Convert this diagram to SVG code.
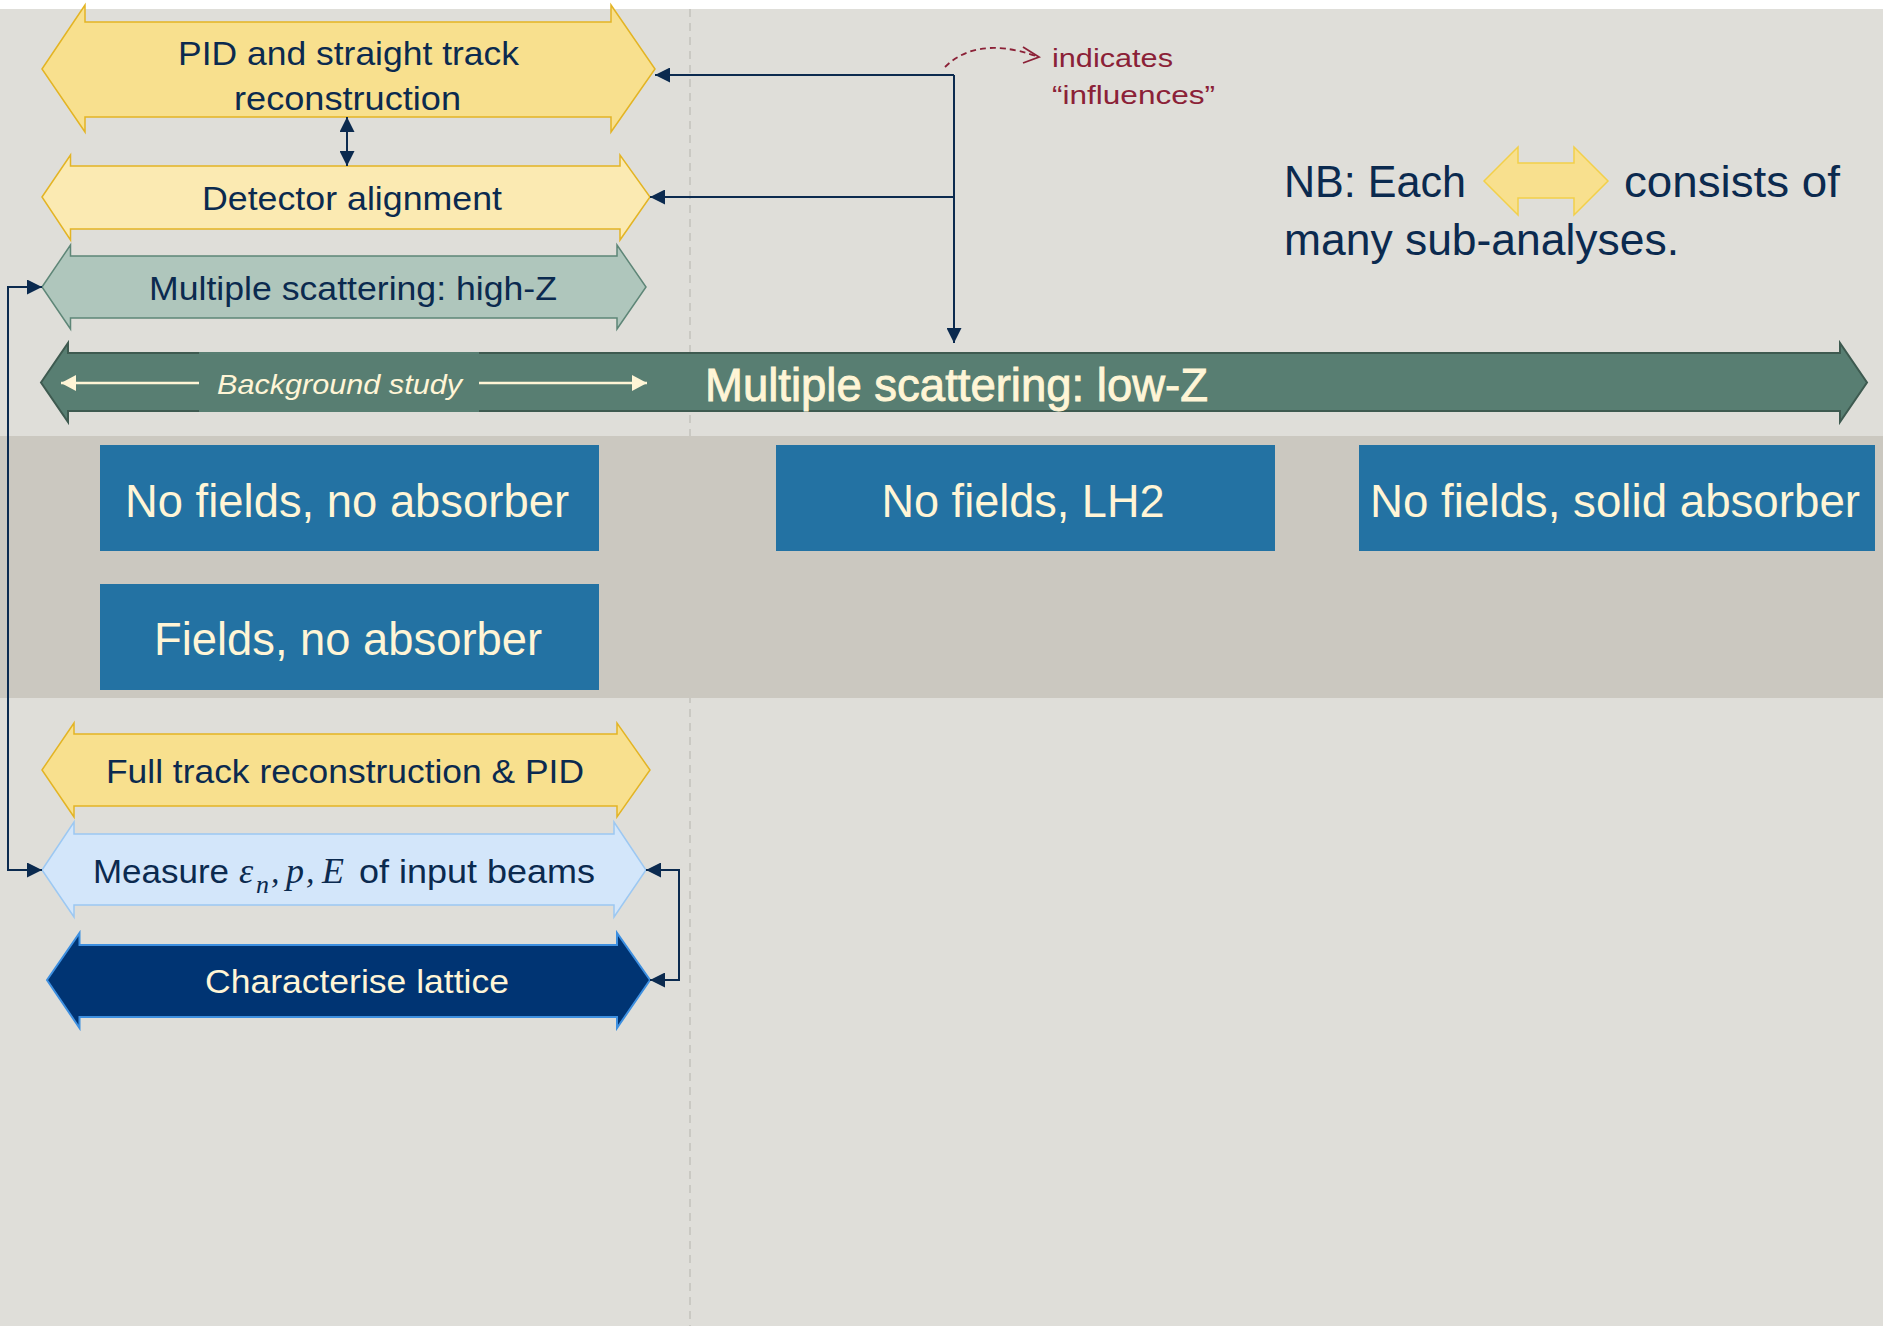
<svg xmlns="http://www.w3.org/2000/svg" width="1883" height="1326" viewBox="0 0 1883 1326">
<style>
.t{font-family:"Liberation Sans",Arial,sans-serif;fill:#0B2A4F}
.c{fill:#FFF5D6}
.m{font-family:"Liberation Serif","DejaVu Serif",serif;font-style:italic;fill:#0B2A4F}
.conn{fill:none;stroke:#0B2A4F;stroke-width:2}
.box{fill:#2372A3}
.yel{fill:#F8E08E;stroke:#E3B424;stroke-width:1.5}
</style>
<defs>
<marker id="ah" markerUnits="userSpaceOnUse" markerWidth="15" markerHeight="15" refX="15" refY="7.5" orient="auto-start-reverse" viewBox="0 0 15 15">
<path d="M0,0 L15,7.5 L0,15 z" fill="#0B2A4F"/>
</marker>
<marker id="ch" markerUnits="userSpaceOnUse" markerWidth="16" markerHeight="16" refX="15" refY="8" orient="auto" viewBox="0 0 16 16">
<path d="M0,0 L15,8 L0,16 z" fill="#FFF5D6"/>
</marker>
</defs>
<rect x="0" y="0" width="1883" height="1326" fill="#FFFFFF"/>
<rect x="0" y="9" width="1883" height="1317" fill="#DFDED9"/>
<line x1="690" y1="9" x2="690" y2="1326" stroke="#C4C2BC" stroke-width="1.5" stroke-dasharray="8 6"/>
<rect x="0" y="436" width="1883" height="262" fill="#CBC8C0"/>

<g id="pid-straight">
<path class="yel" d="M42,69 L85,5 L85,22 L611,22 L611,5 L655,69 L611,132 L611,117 L85,117 L85,132 Z"/>
<text class="t" x="178" y="65" font-size="32.5" textLength="341" lengthAdjust="spacingAndGlyphs">PID and straight track</text>
<text class="t" x="234" y="110" font-size="32.5" textLength="227" lengthAdjust="spacingAndGlyphs">reconstruction</text>
</g>

<g id="detector-alignment">
<path d="M42,197 L70.5,155 L70.5,166 L620,166 L620,155 L650,197 L620,240 L620,229 L70.5,229 L70.5,240 Z" fill="#FBEAB2" stroke="#E3B424" stroke-width="1.5"/>
<text class="t" x="202" y="210" font-size="33" textLength="300" lengthAdjust="spacingAndGlyphs">Detector alignment</text>
</g>

<g id="ms-highz">
<path d="M42,287 L70.5,245 L70.5,256 L617,256 L617,245 L646,287 L617,329 L617,318 L70.5,318 L70.5,329 Z" fill="#AFC6BC" stroke="#5E8677" stroke-width="1.5"/>
<text class="t" x="149" y="300" font-size="32.5" textLength="408" lengthAdjust="spacingAndGlyphs">Multiple scattering: high-Z</text>
</g>

<g id="ms-lowz">
<path d="M41,382.5 L68,343 L68,353 L1840,353 L1840,343 L1867,382.5 L1840,422 L1840,411 L68,411 L68,422 Z" fill="#587E72" stroke="#3E5A50" stroke-width="2"/>
<rect x="199" y="352" width="280" height="60" fill="#587E72"/>
<line x1="199" y1="383" x2="61" y2="383" stroke="#FFF5D6" stroke-width="2.5" marker-end="url(#ch)"/>
<line x1="479" y1="383" x2="647" y2="383" stroke="#FFF5D6" stroke-width="2.5" marker-end="url(#ch)"/>
<text class="t c" x="217" y="394" font-size="28" font-style="italic" textLength="245" lengthAdjust="spacingAndGlyphs">Background study</text>
<text class="t c" x="705" y="401" font-size="46" stroke="#FFF5D6" stroke-width="0.9" textLength="503" lengthAdjust="spacingAndGlyphs">Multiple scattering: low-Z</text>
</g>

<g id="box-nofields-noabs">
<rect class="box" x="100" y="445" width="499" height="106"/>
<text class="t c" x="125" y="517" font-size="46" textLength="444" lengthAdjust="spacingAndGlyphs">No fields, no absorber</text>
</g>
<g id="box-nofields-lh2">
<rect class="box" x="776" y="445" width="499" height="106"/>
<text class="t c" x="881.5" y="517" font-size="46" textLength="283" lengthAdjust="spacingAndGlyphs">No fields, LH2</text>
</g>
<g id="box-nofields-solid">
<rect class="box" x="1359" y="445" width="516" height="106"/>
<text class="t c" x="1370" y="517" font-size="46" textLength="490" lengthAdjust="spacingAndGlyphs">No fields, solid absorber</text>
</g>
<g id="box-fields-noabs">
<rect class="box" x="100" y="584" width="499" height="106"/>
<text class="t c" x="154" y="655" font-size="46" textLength="388" lengthAdjust="spacingAndGlyphs">Fields, no absorber</text>
</g>

<g id="full-track">
<path class="yel" d="M42,770 L74,723 L74,734 L617,734 L617,723 L650,770 L617,817 L617,806 L74,806 L74,817 Z"/>
<text class="t" x="106" y="783" font-size="32.5" textLength="478" lengthAdjust="spacingAndGlyphs">Full track reconstruction &amp; PID</text>
</g>

<g id="measure-beams">
<path d="M42,870 L74,822 L74,834 L614,834 L614,822 L646,870 L614,917 L614,905 L74,905 L74,917 Z" fill="#D3E6FA" stroke="#9CC8F2" stroke-width="1.5"/>
<text class="t" x="93" y="883" font-size="33" textLength="136" lengthAdjust="spacingAndGlyphs">Measure</text>
<text class="m" x="239" y="883" font-size="36">ε</text>
<text class="m" x="256" y="893" font-size="26">n</text>
<text class="m" x="271" y="883" font-size="34" font-style="normal">,</text>
<text class="m" x="286" y="883" font-size="36">p</text>
<text class="m" x="306" y="883" font-size="34" font-style="normal">,</text>
<text class="m" x="322" y="883" font-size="36">E</text>
<text class="t" x="359" y="883" font-size="33" textLength="236" lengthAdjust="spacingAndGlyphs">of input beams</text>
</g>

<g id="characterise-lattice">
<path d="M47,980 L79.5,933 L79.5,945 L617,945 L617,933 L650,980 L617,1028 L617,1017 L79.5,1017 L79.5,1028 Z" fill="#003473" stroke="#3D8FE0" stroke-width="2"/>
<text class="t c" x="205" y="993" font-size="34" textLength="304" lengthAdjust="spacingAndGlyphs">Characterise lattice</text>
</g>

<g id="connectors">
<path class="conn" d="M954,75 L954,343" marker-end="url(#ah)"/>
<path class="conn" d="M954,75 L655,75" marker-end="url(#ah)"/>
<path class="conn" d="M954,197 L650,197" marker-end="url(#ah)"/>
<path class="conn" d="M347,117 L347,166" marker-start="url(#ah)" marker-end="url(#ah)"/>
<path class="conn" d="M42,287 L8,287 L8,870 L42,870" marker-start="url(#ah)" marker-end="url(#ah)"/>
<path class="conn" d="M646,870 L679,870 L679,980 L650,980" marker-start="url(#ah)" marker-end="url(#ah)"/>
</g>

<g id="legend-influences">
<path d="M945,67 C962,50 990,40 1036,56" fill="none" stroke="#8B2137" stroke-width="1.8" stroke-dasharray="6 4"/>
<polyline points="1023,47 1039,57 1023,63" fill="none" stroke="#8B2137" stroke-width="1.8"/>
<text class="t" x="1052" y="67" font-size="26" style="fill:#8B2137" textLength="121" lengthAdjust="spacingAndGlyphs">indicates</text>
<text class="t" x="1052" y="104" font-size="26" style="fill:#8B2137" textLength="163" lengthAdjust="spacingAndGlyphs">“influences”</text>
</g>

<g id="legend-nb">
<text class="t" x="1284" y="197" font-size="44" textLength="182" lengthAdjust="spacingAndGlyphs">NB: Each</text>
<path d="M1484,181 L1518,147 L1518,163 L1574,163 L1574,147 L1608,181 L1574,215 L1574,198 L1518,198 L1518,215 Z" fill="#F8E08E" stroke="#F2D04A" stroke-width="1.5"/>
<text class="t" x="1624" y="197" font-size="44" textLength="216" lengthAdjust="spacingAndGlyphs">consists of</text>
<text class="t" x="1284" y="255" font-size="44" textLength="395" lengthAdjust="spacingAndGlyphs">many sub-analyses.</text>
</g>
</svg>
